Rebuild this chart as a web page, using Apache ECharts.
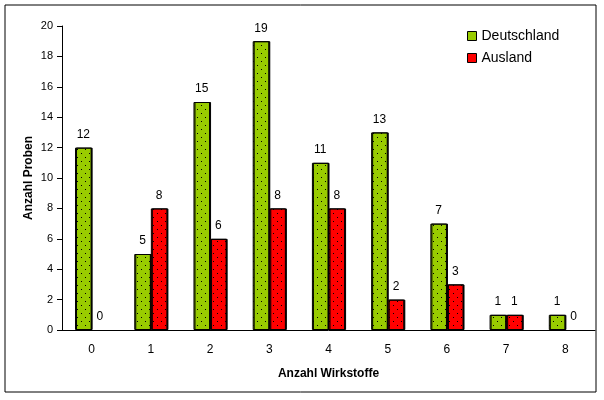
<!DOCTYPE html>
<html><head><meta charset="utf-8">
<script src="https://cdn.jsdelivr.net/npm/echarts@6/dist/echarts.min.js"></script>
<style>html,body{margin:0;padding:0;background:#fff}#c{width:604px;height:400px}</style>
</head><body><div id="c"></div>
<script>
const categories = ['0','1','2','3','4','5','6','7','8'];
const deutschland = [12,5,15,19,11,13,7,1,1];
const ausland = [0,8,6,8,8,2,3,1,0];
const yTicks = {min:0, max:20, interval:2};

function pattern(bg){
  const c=document.createElement('canvas');c.width=8;c.height=8;
  const g=c.getContext('2d');g.fillStyle=bg;g.fillRect(0,0,8,8);
  g.fillStyle='#000';g.fillRect(1,1,1,1);g.fillRect(5,5,1,1);
  return {image:c,repeat:'repeat'};
}
const chart=echarts.init(document.getElementById('c'),null,{renderer:'canvas'});
const font='Liberation Sans, Arial, sans-serif';
function series(name,data,color){
  return {name,type:'bar',
    data:data.map(v=>v===0?{value:0,itemStyle:{borderWidth:0,shadowColor:'transparent'}}:v),
    barGap:'0%',barCategoryGap:'44%',
    itemStyle:{color:pattern(color),borderColor:'#000',borderWidth:1,shadowColor:'#000',shadowOffsetX:1,shadowOffsetY:0,shadowBlur:0},
    label:{show:true,position:'top',distance:7,color:'#000',fontFamily:font,fontSize:12},
    emphasis:{disabled:true}};
}
chart.setOption({
  animation:false,
  graphic:[{type:'rect',shape:{x:5,y:5,width:591,height:387},style:{fill:'none',stroke:'#000',lineWidth:1}}],
  grid:{left:62,top:26,right:9,bottom:70},
  legend:{orient:'vertical',left:462,top:24,icon:'rect',itemWidth:9,itemHeight:9,itemGap:8,
    textStyle:{fontFamily:font,fontSize:14,color:'#000'},
    data:[{name:'Deutschland',itemStyle:{color:'#99CC00',borderColor:'#000',borderWidth:1}},{name:'Ausland',itemStyle:{color:'#FF0000',borderColor:'#000',borderWidth:1}}]},
  xAxis:{type:'category',data:categories,name:'Anzahl Wirkstoffe',nameLocation:'middle',nameGap:38,
    nameTextStyle:{fontFamily:font,fontWeight:'bold',fontSize:12,color:'#000'},
    axisLine:{lineStyle:{color:'#000'}},axisTick:{length:5,lineStyle:{color:'#000'}},
    axisLabel:{color:'#000',fontFamily:font,fontSize:12,margin:14}},
  yAxis:{type:'value',min:yTicks.min,max:yTicks.max,interval:yTicks.interval,name:'Anzahl Proben',nameLocation:'middle',nameGap:27,nameMoveOverlap:false,
    nameTextStyle:{fontFamily:font,fontWeight:'bold',fontSize:12,color:'#000'},
    splitLine:{show:false},axisLine:{show:true,lineStyle:{color:'#000'}},axisTick:{show:true,length:5,lineStyle:{color:'#000'}},
    axisLabel:{color:'#000',fontFamily:font,fontSize:11,margin:9}},
  series:[series('Deutschland',deutschland,'#99CC00'),series('Ausland',ausland,'#FF0000')]
});
</script></body></html>
